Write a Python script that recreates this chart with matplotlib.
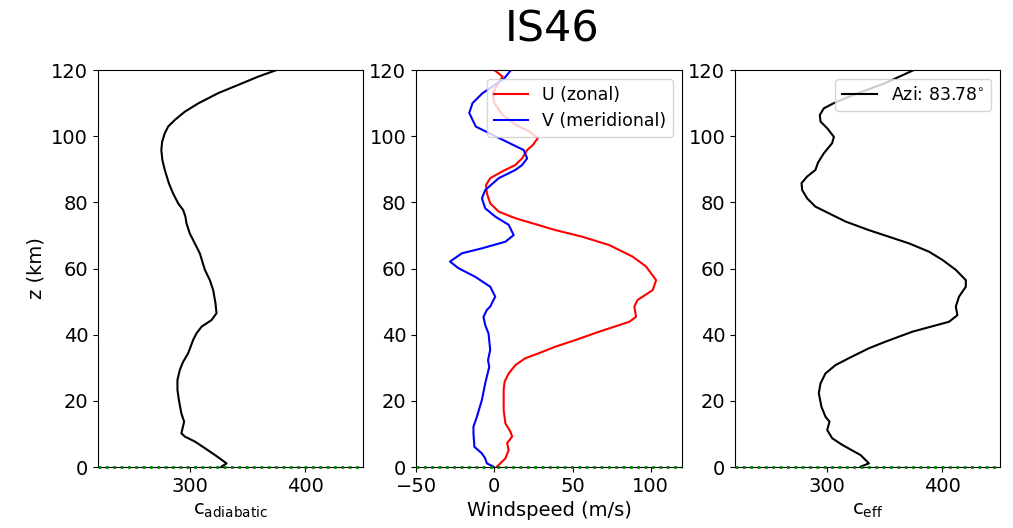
import numpy as np
import matplotlib
matplotlib.use("Agg")
import matplotlib.pyplot as plt

# profiles (altitude in km)
z_ad = [0.1, 1.1, 3.3, 5.7, 7.7, 9.2, 10.2, 13.7, 16.2, 20.3, 23.3, 26.3, 29.3,
        31.8, 34.4, 38.4, 40.4, 42.4, 44.4, 46.5, 49.5, 53.5, 56.5, 59.6, 64.6,
        68.6, 70.6, 73.7, 75.7, 77.7, 79.7, 82.7, 85.8, 89.8, 92.8, 95.8, 98.3,
        100.9, 102.9, 104.9, 107.4, 109.9, 113.0, 115.5, 118.0, 120]
c_ad = [327.2, 331.6, 322.9, 312.8, 304.1, 295.4, 292.4, 294.8, 292.4, 290.2,
        289.0, 289.0, 291.0, 293.9, 298.3, 302.6, 305.5, 309.9, 318.5, 322.9,
        322.0, 320.0, 317.1, 312.8, 308.4, 302.6, 299.7, 296.8, 295.9, 293.9,
        289.6, 285.2, 281.5, 278.0, 275.9, 275.0, 275.7, 278.0, 280.9, 286.7,
        295.4, 307.0, 324.3, 341.7, 359.1, 375.1]

z_u = [0.1, 2.6, 5.1, 7.2, 9.2, 10.7, 13.2, 17.2, 23.3, 25.8, 28.3, 30.8, 32.9,
       34.4, 36.4, 38.4, 40.9, 43.9, 45.4, 48.5, 50.5, 53.5, 56.5, 60.6, 63.6,
       67.1, 69.6, 71.6, 73.7, 75.2, 77.2, 79.7, 82.7, 85.2, 87.3, 89.3, 91.3,
       93.3, 95.8, 97.3, 99.4, 101.4, 103.4, 106.4, 110.0, 113.0, 115.5, 118.0,
       120]
u = [1.7, 7.1, 9.2, 8.2, 11.4, 10.3, 7.1, 6.0, 6.0, 6.6, 9.2, 13.5, 19.9, 28.5,
     39.2, 52.0, 67.0, 86.3, 90.6, 89.5, 91.6, 101.3, 103.4, 97.0, 88.4, 73.4,
     56.3, 39.2, 24.2, 13.5, 2.8, -2.6, -4.7, -5.3, -2.6, 4.9, 13.5, 17.8, 21.0,
     24.6, 27.8, 22.5, 13.9, 5.3, 0.0, -1.1, 2.1, 5.3, 0.0]

z_v = [0.1, 1.1, 2.6, 4.1, 6.1, 10.2, 12.2, 15.2, 20.3, 25.3, 30.3, 32.3, 35.4,
       40.4, 42.9, 45.4, 47.5, 48.5, 51.5, 54.5, 57.5, 60.1, 62.1, 64.6, 66.1,
       68.1, 70.1, 73.2, 75.7, 78.2, 81.2, 83.7, 87.3, 89.8, 91.3, 93.3, 95.8,
       99.4, 102.9, 107.0, 110.0, 113.0, 115.0, 117.5, 120]
v = [-0.5, -4.7, -5.8, -7.9, -12.7, -13.3, -13.3, -11.1, -7.9, -5.8, -3.2, -4.0,
     -2.6, -3.7, -5.8, -6.9, -4.7, -2.6, 0.6, -2.6, -12.2, -22.9, -28.3, -20.7,
     -7.9, 7.1, 12.4, 9.2, 0.6, -5.8, -7.9, -5.8, 2.8, 13.5, 17.8, 21.0, 18.8,
     3.2, -11.8, -16.0, -13.9, -7.5, -1.1, 6.4, 10.7]

z_eff = [0.1, 1.1, 3.6, 6.7, 8.7, 11.2, 13.7, 15.2, 18.2, 22.3, 25.3, 28.3,
         30.8, 32.9, 35.9, 37.9, 40.9, 43.9, 45.9, 48.5, 51.5, 54.5, 56.5, 59.6,
         62.6, 65.1, 67.6, 69.6, 71.6, 74.2, 76.7, 78.7, 81.2, 83.7, 85.8, 87.8,
         89.8, 92.0, 94.8, 97.9, 99.8, 102.4, 104.4, 106.4, 108.4, 110.0, 112.5,
         116.0, 120]
c_eff = [329.0, 336.2, 329.0, 313.0, 304.3, 300.0, 302.0, 298.5, 295.0, 292.7,
         294.2, 298.5, 307.2, 318.8, 336.2, 350.7, 373.9, 405.7, 413.0, 411.6,
         414.4, 420.3, 420.3, 411.6, 400.0, 388.3, 371.0, 353.6, 336.2, 315.9,
         301.4, 289.8, 282.6, 278.3, 277.7, 282.6, 289.8, 292.0, 297.0, 304.3,
         305.8, 300.0, 294.2, 293.6, 297.0, 305.8, 323.0, 350.0, 375.3]

station = "IS46"
azimuth = 83.78

plt.rcParams['font.size'] = 14

fig = plt.figure(figsize=(10.13, 5.28), dpi=100)
ax1 = fig.add_axes([0.0967, 0.1155, 0.2616, 0.7519])
ax2 = fig.add_axes([0.4107, 0.1155, 0.2626, 0.7519])
ax3 = fig.add_axes([0.7256, 0.1155, 0.2616, 0.7519])

ax1.plot(c_ad, z_ad, color='k', lw=1.5)
ax1.set_xlim(220, 450)
ax1.set_xlabel(r'c$_{\mathrm{adiabatic}}$')
ax1.set_ylabel('z (km)')

ax2.plot(u, z_u, color='r', lw=1.5, label='U (zonal)')
ax2.plot(v, z_v, color='b', lw=1.5, label='V (meridional)')
ax2.set_xlim(-50, 120)
ax2.set_xlabel('Windspeed (m/s)')
ax2.legend(loc='upper right', fontsize=12.5)

ax3.plot(c_eff, z_eff, color='k', lw=1.5, label='Azi: %.2f$^{\\circ}$' % azimuth)
ax3.set_xlim(220, 450)
ax3.set_xlabel(r'c$_{\mathrm{eff}}$')
ax3.legend(loc='upper right', fontsize=12.5)

# ground level marker
for ax in (ax1, ax2, ax3):
    ax.axhline(0, color='g', ls=':', lw=2, clip_on=False, zorder=5)
    ax.set_ylim(0, 120)
    ax.set_yticks([0, 20, 40, 60, 80, 100, 120])

fig.text(0.545, 0.945, station, ha='center', va='center', fontsize=31)

fig.savefig('out.png', dpi=100)
